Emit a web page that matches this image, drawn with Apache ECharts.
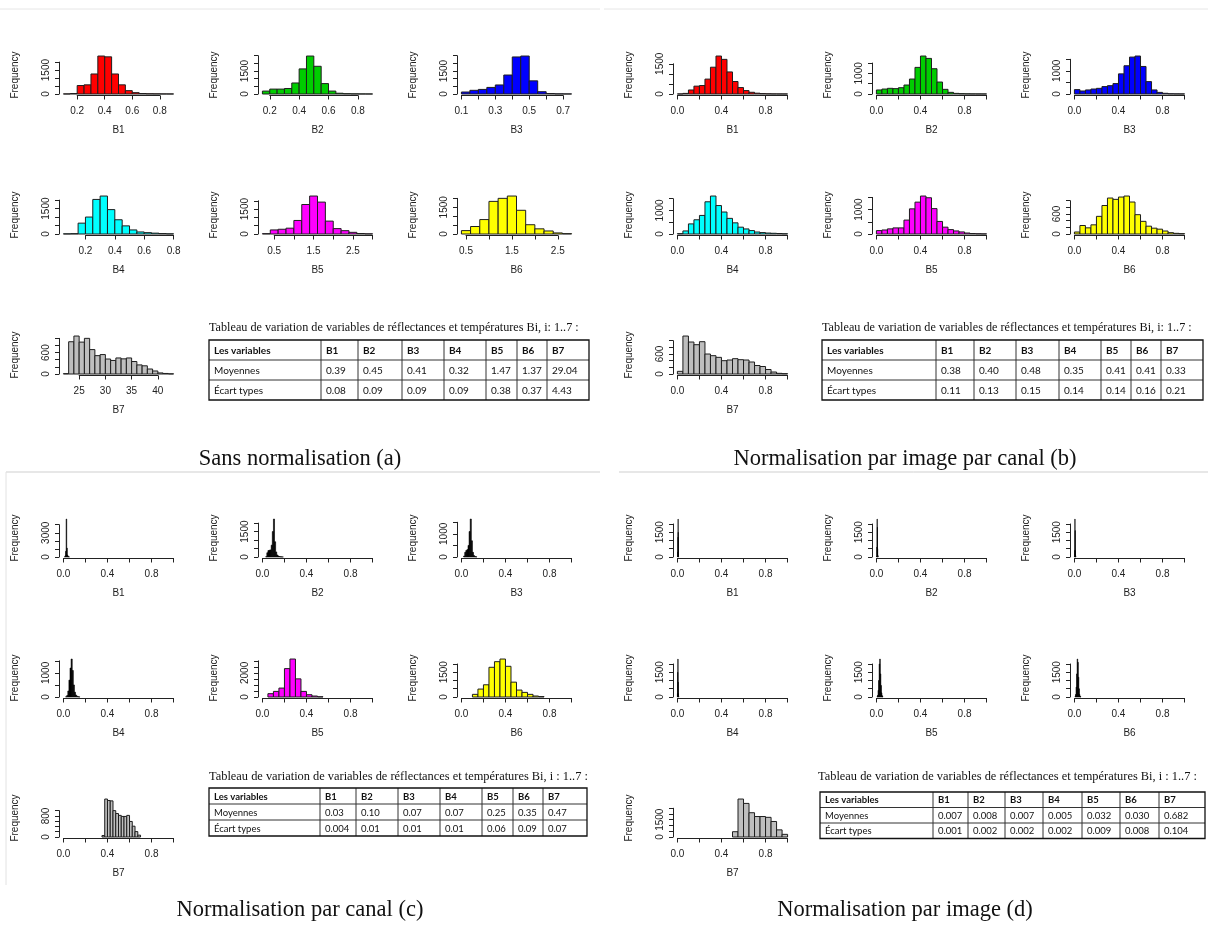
<!DOCTYPE html>
<html><head><meta charset="utf-8">
<script src="https://cdn.jsdelivr.net/npm/echarts@6/dist/echarts.min.js"></script>
<style>html,body{margin:0;padding:0;background:#fff}#chart{width:1208px;height:932px}</style>
</head><body><div id="chart"></div>
<script>
// ---------------- DATA ----------------
const bands = ['B1','B2','B3','B4','B5','B6','B7'];
const histColors = ['#FF0000','#00CD00','#0000FF','#00FFFF','#FF00FF','#FFFF00','#BEBEBE'];

// (a) Sans normalisation
const a1 = [5,30,530,575,1255,2380,2330,1255,575,210,85,30,15,10,5,3];
const a2 = [190,320,320,360,720,1640,2480,1810,680,190,50,20,10,5,3];
const a3 = [130,240,300,430,590,1240,2420,2480,860,150,30,10,5];
const a4 = [10,20,640,1000,2040,2240,1440,840,480,240,120,80,50,25,10];
const a5 = [20,245,285,350,815,1775,2285,1920,775,325,200,100,30,10];
const a6 = [190,420,810,1830,2000,2130,1330,520,290,170,60,20];
const a7 = [10,905,1065,895,1000,685,515,545,420,380,450,425,450,350,255,230,140,85,30,15,5];
const binStartA = [0.1,0.15,0.1,0.05,0.2,0.4,22];
const binWidthA = [0.05,0.05,0.05,0.05,0.2,0.2,1];
const xTicksA = [[0.2,0.8,0.2],[0.2,0.8,0.2],[0.1,0.7,0.1],[0.2,0.8,0.2],[0.5,3.0,0.5],[0.5,2.5,0.5],[25,40,5]];
const xLabelsA = [[0.2,0.4,0.6,0.8],[0.2,0.4,0.6,0.8],[0.1,0.3,0.5,0.7],[0.2,0.4,0.6,0.8],[0.5,1.5,2.5],[0.5,1.5,2.5],[25,30,35,40]];
const xDecA = [1,1,1,1,1,1,0];
const yTicksA = [[2000,500],[2500,500],[2500,500],[2000,500],[2000,500],[2000,500],[1000,200]];
const yLabelsA = [[0,1500],[0,1500],[0,1500],[0,1500],[0,1500],[0,1500],[0,600]];

// (b) Normalisation par image par canal
const b1 = [3,30,200,390,420,740,1330,1885,1720,1095,620,320,170,85,40,20,10,5,3,2];
const b2 = [195,240,275,260,305,435,725,1290,1840,1725,1225,580,225,80,30,15,8,5,3,2];
const b3 = [190,130,175,215,245,320,360,450,870,1220,1595,1640,1190,535,175,70,30,10,5,3];
const b4 = [15,130,430,605,790,1370,1615,1210,935,665,475,290,215,145,85,60,40,30,20,10];
const b5 = [140,165,210,250,250,570,1030,1305,1555,1485,1040,515,280,180,125,85,40,20,10,5];
const b6 = [60,255,185,275,530,855,1080,1040,1110,1140,960,580,380,235,175,145,90,40,20,10];
const b7 = [80,1140,960,880,970,600,550,500,400,420,460,430,420,360,255,225,135,60,20,10];
const binStartB = [0,0,0,0,0,0,0];
const binWidthB = [0.05,0.05,0.05,0.05,0.05,0.05,0.05];
const yTicksB = [[1500,500],[1500,500],[1500,500],[1500,500],[1500,500],[1000,200],[1000,200]];
const yLabelsB = [[0,1500],[0,1000],[0,1000],[0,1000],[0,1000],[0,600],[0,600]];

// (c) Normalisation par canal
const c1 = [20,150,700,4700,1100,250,80,30,10];
const c2 = [20,250,380,400,420,700,1500,2240,900,300,120,60,30,15,8,4];
const c3 = [40,200,280,320,500,1100,1640,700,200,60,20,8];
const c4 = [10,60,250,700,1200,1575,1100,500,200,80,30,12,5];
const c5 = [275,465,740,2355,3150,1505,465,190,80,20];
const c6 = [160,480,740,1800,2140,2300,1860,900,420,280,160,60,25];
const c7 = [55,1440,1385,1370,1000,890,820,780,780,820,590,410,205,70];
const binStartC = [0.01,0.03,0.02,0.02,0.05,0.1,0.35];
const binWidthC = [0.005,0.01,0.01,0.01,0.05,0.05,0.025];
const yTicksC = [[4000,1000],[2000,500],[1500,500],[1500,500],[3000,500],[2000,500],[1000,200]];
const yLabelsC = [[0,3000],[0,1500],[0,1000],[0,1000],[0,2000],[0,1500],[0,800]];

// (d) Normalisation par image
const d1 = [20,300,1200,2300,1500,400,80,15,5];
const d2 = [50,600,2300,1800,500,100,20];
const d3 = [30,400,2300,1600,400,80,15];
const d4 = [200,1500,2300,900,200,40,10];
const d5 = [20,100,400,1000,2000,2300,1400,700,250,80,20];
const d6 = [30,150,600,1400,2300,2100,1200,500,150,40,10];
const d7 = [460,3300,2920,2110,1780,1780,1710,1350,620,230];
const binStartD = [0.003,0.002,0,0,0.005,0.005,0.5];
const binWidthD = [0.001,0.002,0.002,0.002,0.005,0.005,0.05];
const yTicksD = [[2000,500],[2000,500],[2000,500],[2000,500],[2000,500],[2000,500],[2500,500]];
const yLabelsD = [[0,1500],[0,1500],[0,1500],[0,1500],[0,1500],[0,1500],[0,1500]];

// unit-range axes (b, c, d)
const xTicksUnit = [0,1,0.2];
const xLabelsUnit = [0,0.4,0.8];

// tables
const tableHeader = ['Les variables','B1','B2','B3','B4','B5','B6','B7'];
const rowNames = ['Moyennes','Écart types'];
const meanA = ['0.39','0.45','0.41','0.32','1.47','1.37','29.04'];
const sdA   = ['0.08','0.09','0.09','0.09','0.38','0.37','4.43'];
const meanB = ['0.38','0.40','0.48','0.35','0.41','0.41','0.33'];
const sdB   = ['0.11','0.13','0.15','0.14','0.14','0.16','0.21'];
const meanC = ['0.03','0.10','0.07','0.07','0.25','0.35','0.47'];
const sdC   = ['0.004','0.01','0.01','0.01','0.06','0.09','0.07'];
const meanD = ['0.007','0.008','0.007','0.005','0.032','0.030','0.682'];
const sdD   = ['0.001','0.002','0.002','0.002','0.009','0.008','0.104'];
const titleAB = 'Tableau de variation de variables de réflectances et températures Bi, i: 1..7 :';
const titleCD = 'Tableau de variation de variables de réflectances et températures Bi, i : 1..7 :';
const captions = ['Sans normalisation (a)','Normalisation par image par canal (b)','Normalisation par canal (c)','Normalisation par image (d)'];

// ---------------- LAYOUT / BUILD ----------------
const AX = '#222';
const SANS = '"Liberation Sans", Arial, sans-serif';
const SERIF = '"Liberation Serif", "Times New Roman", serif';
const PW = 119, PH = 41;
const grids=[], xAxes=[], yAxes=[], series=[], graphics=[];

function fmt(v, dec){ return dec===0 ? String(Math.round(v)) : (+v).toFixed(dec); }
function inList(v, list){ return list.some(t => Math.abs(t - v) < 1e-7); }

function addPlot(counts, start, width, xt, xl, xdec, yt, yl, fill, xlim, L, base, name, thin) {
  const n = counts.length;
  const lo = xlim ? xlim[0] : start;
  const hi = xlim ? xlim[1] : start + width * n;
  const r = hi - lo;
  const k = PW / (1.08 * r);
  const px = v => L + (v - (lo - 0.04 * r)) * k;
  const maxC = Math.max(...counts);
  const ky = PH / (1.08 * maxC);
  const gi = grids.length;
  const gl = px(xt[0]), gr = px(xt[1]);
  grids.push({left: gl, width: gr - gl, top: base - yt[0] * ky, height: yt[0] * ky,
              containLabel: false, outerBoundsMode: 'none'});
  xAxes.push({type:'value', gridIndex: gi, min: xt[0], max: xt[1], interval: xt[2], offset: 1.5,
    axisLine:{show:true, onZero:false, lineStyle:{color:AX, width:1}},
    axisTick:{show:true, length:4, lineStyle:{color:AX, width:1}},
    axisLabel:{show:true, margin:11, color:AX, fontSize:10, fontFamily:SANS,
      showMinLabel:true, showMaxLabel:true, hideOverlap:false,
      formatter: v => inList(v, xl) ? fmt(v, xdec) : ''},
    splitLine:{show:false}});
  yAxes.push({type:'value', gridIndex: gi, min: 0, max: yt[0], interval: yt[1], offset: gl - L,
    axisLine:{show:true, onZero:false, lineStyle:{color:AX, width:1}},
    axisTick:{show:true, length:4, lineStyle:{color:AX, width:1}},
    axisLabel:{show:true, rotate:90, margin:8, color:AX, fontSize:10, fontFamily:SANS,
      showMinLabel:true, showMaxLabel:true, hideOverlap:false,
      formatter: v => inList(v, yl) ? String(v) : ''},
    splitLine:{show:false}});
  const data = counts.map((c, j) => [start + j * width, start + (j + 1) * width, c]);
  series.push({type:'custom', xAxisIndex: gi, yAxisIndex: gi, clip:false, silent:true,
    encode:{x:[0,1], y:2}, data,
    renderItem: (params, api) => {
      const p0 = api.coord([api.value(0), 0]);
      const p1 = api.coord([api.value(1), api.value(2)]);
      return {type:'rect', shape:{x:p0[0], y:p1[1], width:p1[0]-p0[0], height:p0[1]-p1[1]},
        style:{fill: fill, stroke: thin ? '#000' : '#1e1e1e', lineWidth: thin ? 0.6 : 1}};
    }});
  graphics.push({type:'text', x: L + PW/2, y: base + 36,
    style:{text:name, fill:AX, font:'10px ' + SANS, textAlign:'center', textVerticalAlign:'middle', align:'center', verticalAlign:'middle'}});
  graphics.push({type:'text', x: L - 44, y: base + 1.5 - PH/2, rotation: Math.PI/2,
    style:{text:'Frequency', fill:AX, font:'10px ' + SANS, textAlign:'center', textVerticalAlign:'middle', align:'center', verticalAlign:'middle'}});
}

function addPanel(cnts, starts, widths, xts, xls, xdecs, yts, yls, fills, xlim, colX, rowY, thinFlags) {
  for (let i = 0; i < 7; i++) {
    const col = i < 6 ? i % 3 : 0;
    const row = i < 6 ? Math.floor(i / 3) : 2;
    addPlot(cnts[i], starts[i], widths[i], xts[i], xls[i], xdecs[i], yts[i], yls[i], fills[i], xlim,
            colX[col], rowY[row], bands[i], thinFlags[i]);
  }
}

const unit7 = k => [k,k,k,k,k,k,k];
const colsLeft = [59, 258, 457];
const colsRight = [673, 872, 1070];
const rowsTop = [94, 234, 374];
const rowsBottom = [557, 697, 837];

addPanel([a1,a2,a3,a4,a5,a6,a7], binStartA, binWidthA, xTicksA, xLabelsA, xDecA, yTicksA, yLabelsA,
         histColors, null, colsLeft, rowsTop, unit7(false));
addPanel([b1,b2,b3,b4,b5,b6,b7], binStartB, binWidthB, unit7(xTicksUnit), unit7(xLabelsUnit), unit7(1), yTicksB, yLabelsB,
         histColors, [0,1], colsRight, rowsTop, unit7(false));
addPanel([c1,c2,c3,c4,c5,c6,c7], binStartC, binWidthC, unit7(xTicksUnit), unit7(xLabelsUnit), unit7(1), yTicksC, yLabelsC,
         ['#000','#000','#000','#000',histColors[4],histColors[5],histColors[6]], [0,1], colsLeft, rowsBottom,
         [true,true,true,true,false,false,false]);
addPanel([d1,d2,d3,d4,d5,d6,d7], binStartD, binWidthD, unit7(xTicksUnit), unit7(xLabelsUnit), unit7(1), yTicksD, yLabelsD,
         ['#000','#000','#000','#000','#000','#000',histColors[6]], [0,1], colsRight, rowsBottom,
         [true,true,true,true,true,true,false]);

// tables
function addTable(edges, top, rowH, means, sds, fontSize, title, titleX, titleY, titleSize) {
  graphics.push({type:'text', x: titleX, y: titleY,
    style:{text:title, fill:'#111', font: titleSize + 'px ' + SERIF, textAlign:'left', textVerticalAlign:'middle', align:'left', verticalAlign:'middle'}});
  const L = edges[0], R = edges[edges.length-1], B = top + rowH * 3;
  for (let r = 1; r < 3; r++)
    graphics.push({type:'line', shape:{x1:L, y1:top + r*rowH, x2:R, y2:top + r*rowH}, style:{stroke:'#333', lineWidth:1}});
  for (let c = 1; c < edges.length - 1; c++)
    graphics.push({type:'line', shape:{x1:edges[c], y1:top, x2:edges[c], y2:B}, style:{stroke:'#333', lineWidth:1}});
  graphics.push({type:'rect', shape:{x:L, y:top, width:R-L, height:B-top}, style:{fill:'none', stroke:'#111', lineWidth:1.3}});
  const rows = [tableHeader, [rowNames[0]].concat(means), [rowNames[1]].concat(sds)];
  rows.forEach((row, r) => row.forEach((txt, c) => {
    graphics.push({type:'text', x: edges[c] + 5, y: top + r*rowH + rowH/2 + 0.5,
      style:{text: txt, fill:'#111', font: (r === 0 ? 'bold ' : '') + fontSize + 'px Lato, "Open Sans", sans-serif',
             textAlign:'left', textVerticalAlign:'middle', align:'left', verticalAlign:'middle'}});
  }));
}
addTable([209,321,358,402,444,486,517,547,589], 340, 20, meanA, sdA, 10, titleAB, 209, 328, 12.2);
addTable([822,936,974,1016,1059,1101,1131,1161,1203], 340, 20, meanB, sdB, 10, titleAB, 822, 328, 12.2);
addTable([209,320,356,398,440,482,513,543,587], 788, 16, meanC, sdC, 9.5, titleCD, 209, 777, 12.4);
addTable([820,933,968,1005,1043,1082,1120,1159,1205], 792, 15.5, meanD, sdD, 9.5, titleCD, 818, 777, 12.4);

// captions and frame lines
[[300,459],[905,459],[300,910],[905,910]].forEach((p, i) => {
  graphics.push({type:'text', x:p[0], y:p[1],
    style:{text:captions[i], fill:'#111', font:'22.5px ' + SERIF, textAlign:'center', textVerticalAlign:'middle', align:'center', verticalAlign:'middle'}});
});
graphics.push({type:'line', shape:{x1:6, y1:472, x2:600, y2:472}, style:{stroke:'#cfcfcf', lineWidth:1}});
graphics.push({type:'line', shape:{x1:619, y1:472, x2:1208, y2:472}, style:{stroke:'#cfcfcf', lineWidth:1}});
graphics.push({type:'line', shape:{x1:6, y1:472, x2:6, y2:885}, style:{stroke:'#e2e2e2', lineWidth:1}});
graphics.push({type:'line', shape:{x1:0, y1:9, x2:600, y2:9}, style:{stroke:'#e6e6e6', lineWidth:1}});
graphics.push({type:'line', shape:{x1:604, y1:9, x2:1208, y2:9}, style:{stroke:'#e6e6e6', lineWidth:1}});

const chart = echarts.init(document.getElementById('chart'), null, {renderer:'canvas', width:1208, height:932});
chart.setOption({
  animation:false,
  backgroundColor:'#fff',
  grid: grids, xAxis: xAxes, yAxis: yAxes, series: series,
  graphic: {elements: graphics}
});
</script>
</body></html>
